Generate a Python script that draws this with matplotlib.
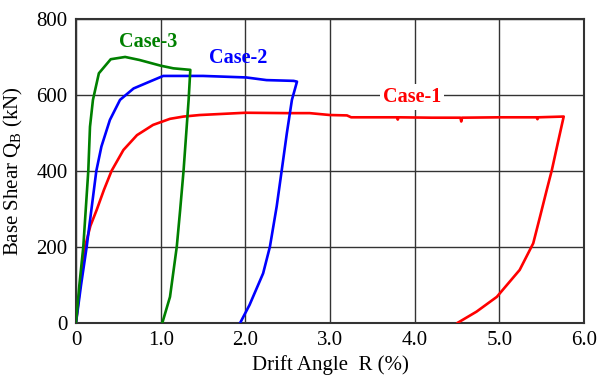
import matplotlib
matplotlib.use('Agg')
import matplotlib.pyplot as plt

# --- dados ---
r_case1 = [0.0, 0.05, 0.106, 0.17, 0.244, 0.33, 0.42, 0.56, 0.72, 0.91, 1.11, 1.27, 1.46,
           2.0, 2.5, 2.76, 3.0, 3.2, 3.25, 3.5, 3.79, 3.8, 3.81, 4.2, 4.54, 4.55, 4.56, 5.0,
           5.44, 5.45, 5.46, 5.76, 5.69, 5.62, 5.56, 5.48, 5.40, 5.24, 4.97, 4.73, 4.51]
q_case1 = [0, 100, 200, 255, 297, 350, 400, 455, 494, 521, 537, 543, 547,
           553, 552, 552, 547, 546, 541, 541, 541, 535, 541, 540, 540, 530, 540, 541,
           541, 536, 541, 543, 473, 402, 350, 279, 209, 139, 68, 29, 0]

r_case2 = [0.0, 0.06, 0.126, 0.24, 0.30, 0.40, 0.52, 0.68, 0.87, 1.03, 1.5, 2.01, 2.25,
           2.57, 2.61, 2.55, 2.49, 2.43, 2.37, 2.29, 2.21, 2.05, 1.94]
q_case2 = [0, 100, 200, 400, 464, 534, 587, 617, 635, 650, 650, 646, 639,
           637, 635, 587, 499, 402, 306, 200, 130, 47, 0]

r_case3 = [0.0, 0.04, 0.086, 0.145, 0.165, 0.20, 0.27, 0.41, 0.58, 0.75, 1.00, 1.15, 1.35,
           1.33, 1.27, 1.23, 1.19, 1.11, 1.02]
q_case3 = [0, 100, 200, 400, 516, 587, 657, 694, 700, 692, 677, 670, 666,
           587, 400, 297, 200, 68, 0]

x_ticks = [0, 1, 2, 3, 4, 5, 6]
x_tick_labels = ['0', '1.0', '2.0', '3.0', '4.0', '5.0', '6.0']
y_ticks = [0, 200, 400, 600, 800]

cor1 = '#ff0000'
cor2 = '#0000ff'
cor3 = '#008000'

plt.rcParams['font.family'] = ['Liberation Serif', 'DejaVu Serif']

fig = plt.figure(figsize=(5.99, 3.76), dpi=100)
ax = fig.add_axes([0.1269, 0.1418, 0.975 - 0.1269, 0.9495 - 0.1418])

ax.plot(r_case1, q_case1, color=cor1, linewidth=1.9, zorder=3)
ax.plot(r_case2, q_case2, color=cor2, linewidth=1.9, zorder=3)
ax.plot(r_case3, q_case3, color=cor3, linewidth=1.9, zorder=3)

ax.set_xlim(0, 6)
ax.set_ylim(0, 800)
ax.set_xticks(x_ticks)
ax.set_xticklabels(x_tick_labels)
ax.set_yticks(y_ticks)
ax.tick_params(length=0, labelsize=15, pad=6)

ax.grid(True, color='#333333', linewidth=1.0)
ax.set_axisbelow(True)
for s in ax.spines.values():
    s.set_color('#333333')
    s.set_linewidth(1.5)

ax.set_xlabel('Drift Angle  R (%)', fontsize=15, labelpad=4)
ax.set_ylabel('Base Shear Q$_\\mathregular{B}$ (kN)', fontsize=15, labelpad=8)

# rótulos das curvas
ax.text(0.85, 740, 'Case-3', color=cor3, fontsize=14.5, fontweight='bold', ha='center', va='center')
ax.text(1.91, 696, 'Case-2', color=cor2, fontsize=14.5, fontweight='bold', ha='center', va='center')
ax.text(3.97, 595, 'Case-1', color=cor1, fontsize=14.5, fontweight='bold', ha='center', va='center',
        bbox=dict(facecolor='white', edgecolor='none', pad=2), zorder=4)

fig.savefig('out.png', dpi=100)
